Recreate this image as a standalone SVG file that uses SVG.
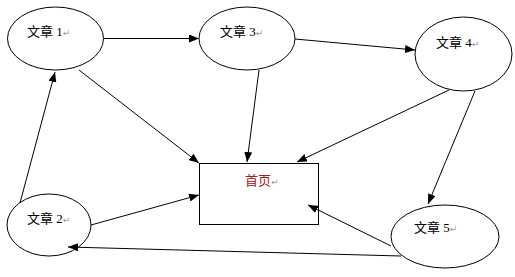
<svg xmlns="http://www.w3.org/2000/svg" width="515" height="277" viewBox="0 0 515 277">
<style>
.n{fill:#fff;stroke:#000;stroke-width:1}
.t{font-family:"Liberation Serif","Noto Sans CJK SC",serif;font-size:13px;fill:#000}
.r{font-family:"Noto Sans CJK SC",sans-serif;font-size:13px;fill:#a02020}
.m{font-size:9px;fill:#999;font-family:"DejaVu Sans",sans-serif}
.c line{stroke:#000;stroke-width:1;marker-end:url(#a)}
</style>
<defs>
<marker id="a" markerUnits="userSpaceOnUse" markerWidth="11" markerHeight="8" refX="10" refY="4" orient="auto">
<path d="M0,0 L10,4 L0,8 Z" fill="#000"/>
</marker>
</defs>
<rect width="515" height="277" fill="#fff"/>
<g id="n1"><ellipse class="n" cx="55.5" cy="38.5" rx="48" ry="31.5"/><text class="t" x="27" y="36">文章 1<tspan class="m">↵</tspan></text></g>
<g id="n3"><ellipse class="n" cx="247" cy="38.5" rx="48" ry="31.5"/><text class="t" x="220" y="36">文章 3<tspan class="m">↵</tspan></text></g>
<g id="n4"><ellipse class="n" cx="463.5" cy="54" rx="48.5" ry="37"/><text class="t" x="436" y="47">文章 4<tspan class="m">↵</tspan></text></g>
<g id="n2"><ellipse class="n" cx="49" cy="225" rx="42" ry="31"/><text class="t" x="27" y="223">文章 2<tspan class="m">↵</tspan></text></g>
<g id="n5"><ellipse class="n" cx="445" cy="236.5" rx="54" ry="31.5"/><text class="t" x="414" y="232">文章 5<tspan class="m">↵</tspan></text></g>
<g id="home"><rect class="n" x="199.5" y="163.5" width="119" height="61"/><text class="r" x="245" y="185">首页<tspan class="m">↵</tspan></text></g>
<g class="c">
<line x1="104" y1="38.5" x2="199" y2="38.5"/>
<line x1="295" y1="39" x2="415" y2="50"/>
<line x1="79" y1="70" x2="199" y2="163"/>
<line x1="259" y1="70" x2="247" y2="162"/>
<line x1="449" y1="90" x2="297" y2="162"/>
<line x1="475" y1="91" x2="428" y2="204"/>
<line x1="391" y1="246" x2="308" y2="205"/>
<line x1="401" y1="256" x2="68" y2="247"/>
<line x1="20" y1="203" x2="55" y2="72"/>
<line x1="91" y1="225" x2="199" y2="195"/>
</g>
</svg>
